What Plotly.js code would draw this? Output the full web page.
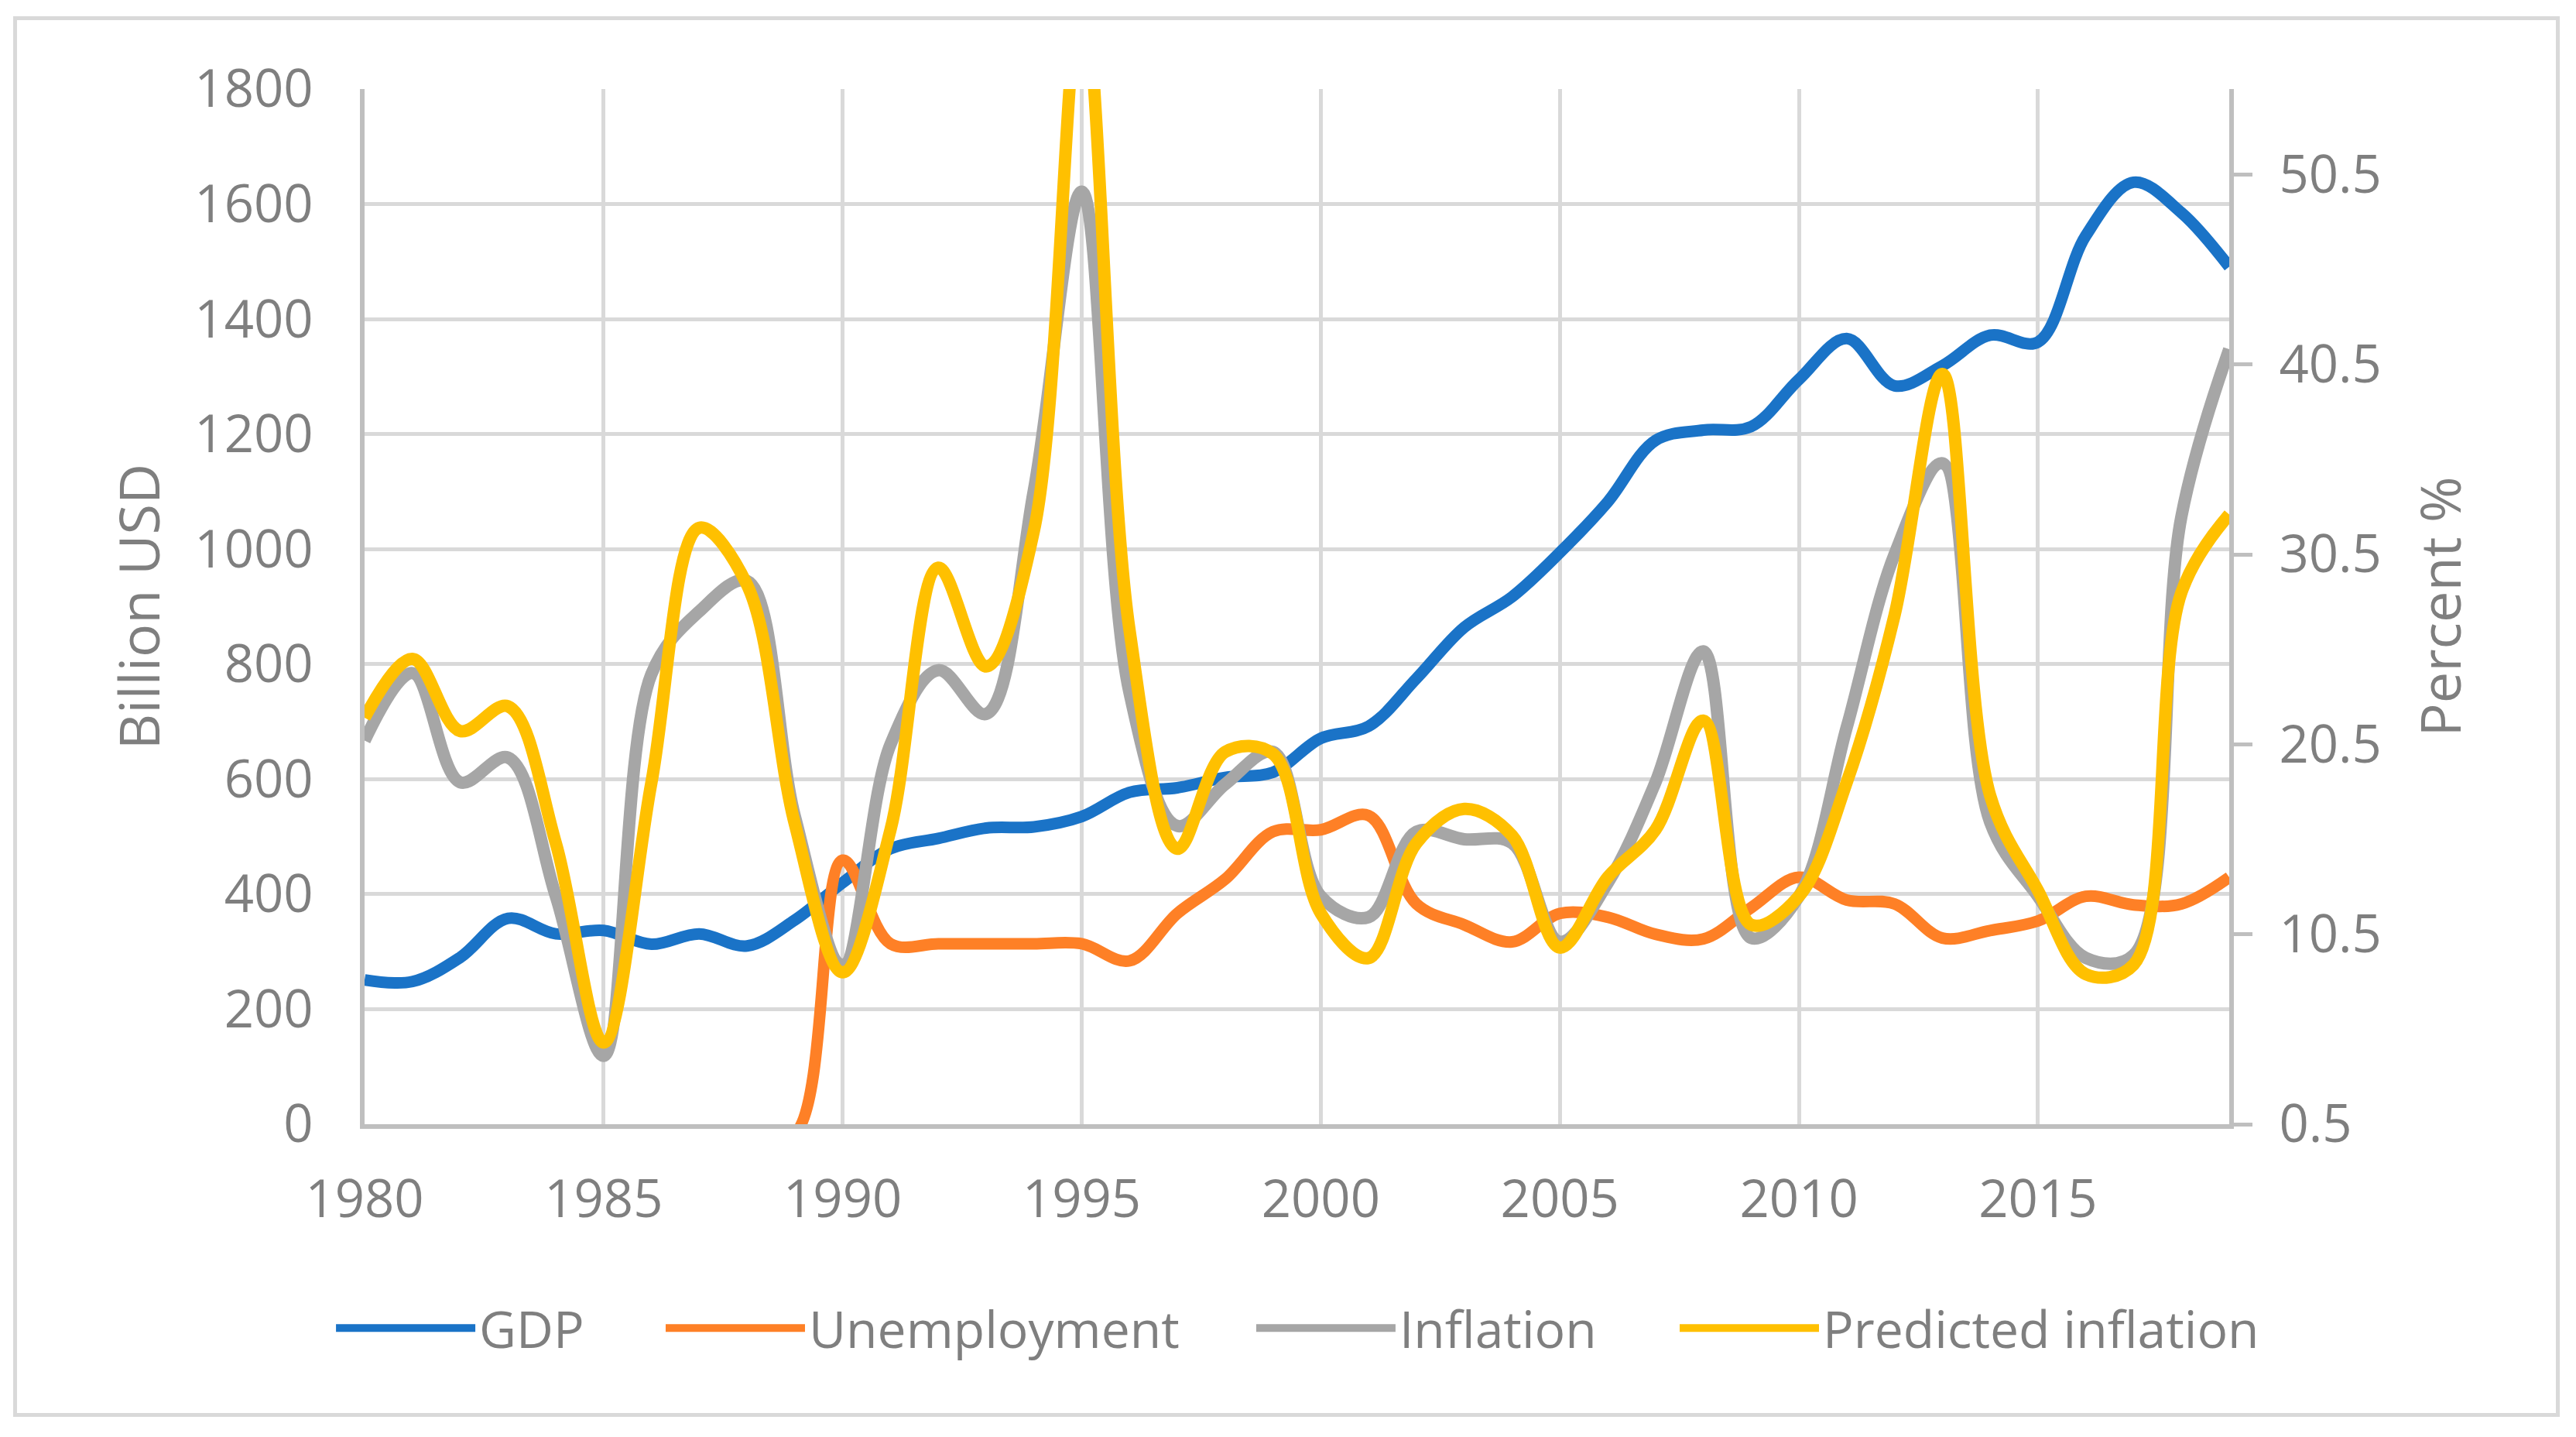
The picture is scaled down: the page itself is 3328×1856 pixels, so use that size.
<!DOCTYPE html>
<html>
<head>
<meta charset="utf-8">
<script src="https://cdn.plot.ly/plotly-3.0.1.min.js"></script>
<style>
  html, body { margin: 0; padding: 0; background: #ffffff; }
  #chart { width: 3328px; height: 1856px; position: absolute; left: 0; top: 0; }
  #frame { position: absolute; left: 17px; top: 21px; width: 3280px; height: 1799px;
           border: 5px solid #d9d9d9; pointer-events: none; }
</style>
</head>
<body>
<div id="chart"></div>
<div id="frame"></div>
<script>
const years = [1980,1981,1982,1983,1984,1985,1986,1987,1988,1989,
               1990,1991,1992,1993,1994,1995,1996,1997,1998,1999,
               2000,2001,2002,2003,2004,2005,2006,2007,2008,2009,
               2010,2011,2012,2013,2014,2015,2016,2017,2018,2019];

const gdp = [251,248,290,358,331,337,313,331,310,355,
             420,479,497,515,517,535,577,585,603,612,
             671,692,775,864,917,994,1082,1189,1207,1213,
             1295,1366,1284,1319,1372,1360,1545,1638,1585,1491];

const unemployment = [0,0,0,0,0,0,0,0,0,0,
                      14.4,10.0,10.0,10.0,10.0,10.0,9.1,11.6,13.4,15.9,
                      16.0,16.75,12.1,11.0,10.1,11.6,11.4,10.5,10.25,11.9,
                      13.5,12.3,12.1,10.3,10.7,11.2,12.5,12.05,12.1,13.5];

const inflation = [20.7,24.25,18.5,19.8,12.5,4.1,24.2,27.5,29.1,16.7,
                   8.9,20.5,24.4,22.1,33.9,49.6,23.2,16.2,18.4,20.1,
                   12.5,11.4,15.9,15.5,15.3,10.1,13.2,18.5,25.4,10.3,
                   12.5,21.4,30.5,35.3,16.4,12.5,9.25,9.4,32.5,41.3];

const predicted = [21.9,25.0,21.2,22.5,15.3,4.8,18.5,31.9,28.9,16.3,
                   8.5,16.0,29.8,24.6,31.75,60.0,26.5,15.0,20.1,20.0,
                   11.6,9.25,15.3,17.1,15.7,9.8,13.5,16.0,21.75,11.0,
                   12.5,18.5,27.3,40.0,17.8,12.8,8.4,8.9,28.5,32.6];

const seriesNames = ['GDP', 'Unemployment', 'Inflation', 'Predicted inflation'];
const seriesColors = ['#1a73c7', '#fe8026', '#a6a6a6', '#ffc000'];
const legendX = [-0.0174, 0.1594, 0.4761, 0.7032];

const FONT = '"Open Sans", "Noto Sans", sans-serif';
const GREY = '#7f7f7f';

function mk(i, y, axis, w) {
  return {
    x: years, y: y, name: seriesNames[i], yaxis: axis,
    legend: i === 0 ? 'legend' : 'legend' + (i + 1),
    type: 'scatter', mode: 'lines',
    line: { color: seriesColors[i], width: w, shape: 'spline', smoothing: 1 },
    hoverinfo: 'x+y'
  };
}

const traces = [
  mk(0, gdp, 'y', 15),
  mk(1, unemployment, 'y2', 15),
  mk(2, inflation, 'y2', 16),
  mk(3, predicted, 'y2', 16)
];

function legendAt(i) {
  return {
    orientation: 'h', x: legendX[i], xanchor: 'left', y: -0.197, yanchor: 'middle',
    font: { family: FONT, color: GREY, size: 66 },
    itemwidth: 180, bgcolor: 'rgba(0,0,0,0)', borderwidth: 0
  };
}

const layout = {
  width: 3328, height: 1856,
  paper_bgcolor: '#ffffff', plot_bgcolor: '#ffffff',
  margin: { l: 471, r: 448, t: 115, b: 404, pad: 0 },
  font: { family: FONT, color: GREY, size: 66 },
  showlegend: true,
  legend: legendAt(0),
  legend2: legendAt(1),
  legend3: legendAt(2),
  legend4: legendAt(3),
  xaxis: {
    range: [1980, 2019], tick0: 1980, dtick: 5,
    showgrid: true, gridcolor: '#d9d9d9', gridwidth: 5,
    showline: true, linecolor: '#bfbfbf', linewidth: 6,
    zeroline: false, ticks: '', ticklabelstandoff: 34,
    tickfont: { family: FONT, color: GREY, size: 67 }
  },
  yaxis: {
    range: [0, 1800], tick0: 0, dtick: 200,
    showgrid: true, gridcolor: '#d9d9d9', gridwidth: 5,
    showline: true, linecolor: '#bfbfbf', linewidth: 6,
    zeroline: false, ticks: '', ticklabelstandoff: 47,
    tickfont: { family: FONT, color: GREY, size: 67 },
    title: { text: 'Billion USD', font: { family: FONT, color: GREY, size: 72 }, standoff: 23 }
  },
  yaxis2: {
    overlaying: 'y', side: 'right',
    range: [0.5, 55.0], tick0: 0.5, dtick: 10, tickformat: '.1f',
    showgrid: false, zeroline: false,
    showline: true, linecolor: '#bfbfbf', linewidth: 6,
    ticks: 'outside', ticklen: 24, tickwidth: 5, tickcolor: '#bfbfbf',
    ticklabelstandoff: 21,
    tickfont: { family: FONT, color: GREY, size: 67 },
    title: { text: 'Percent %', font: { family: FONT, color: GREY, size: 72 }, standoff: 55 }
  }
};

Plotly.newPlot('chart', traces, layout, { displayModeBar: false, staticPlot: true });
</script>
</body>
</html>
